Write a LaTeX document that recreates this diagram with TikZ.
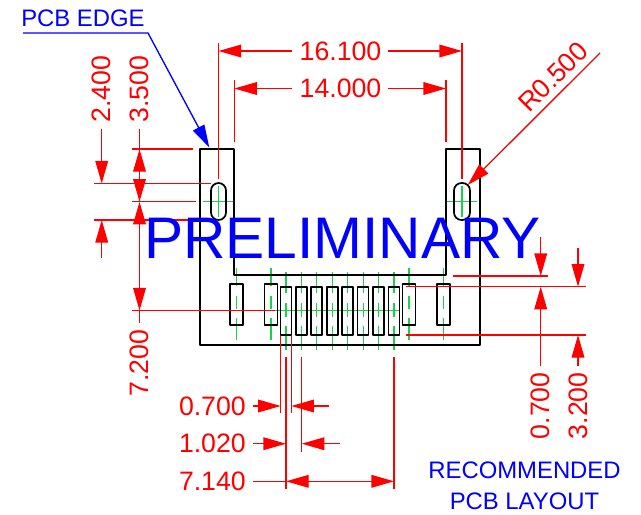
\documentclass[tikz,border=0pt]{standalone}
\usepackage{fontspec}
\setmainfont{Liberation Sans}
\usetikzlibrary{arrows.meta}

\definecolor{dimred}{rgb}{1,0,0}
\definecolor{noteblue}{rgb}{0,0,1}
\definecolor{centergreen}{rgb}{0.1,0.82,0.3}

\tikzset{
  outline/.style={draw=black,line width=1.3pt,line join=round},
  dimline/.style={draw=dimred,line width=1pt},
  dimtip/.style={dimline,-{Triangle[length=17pt,width=9.5pt]}},
  dimtext/.style={text=dimred,font=\fontsize{20}{20}\selectfont,inner sep=0pt},
  notetext/.style={text=noteblue,font=\fontsize{17.9}{17.9}\selectfont,inner sep=0pt},
  centerline/.style={draw=centergreen,line width=0.9pt},
  padline/.style={centerline,dash pattern=on 13.5pt off 7.5pt on 10pt off 6.5pt on 16.5pt},
  padlinelong/.style={centerline,dash pattern=on 16pt off 7.5pt on 10pt off 7pt on 18pt},
}

\begin{document}
\begin{tikzpicture}[x=0.75pt,y=0.75pt,yscale=-1,xscale=1]
  \useasboundingbox (0,0) rectangle (641,514);

  % Center lines
  \draw [centerline] (203,201.7) -- (234,201.7) ;
  \draw [centerline] (218.5,186) -- (218.5,217) ;
  \draw [centerline] (447,201.7) -- (477,201.7) ;
  \draw [centerline] (462,186) -- (462,217) ;
  \draw [centerline] (275,310.5) -- (400,310.5) ;
  \foreach \px in {236.5,271,409,443.5}
    \draw [padline] (\px,268) -- (\px,340) ;
  \foreach \i in {0,...,7}
    \draw [padlinelong] ({286+15.42*\i},272) -- ({286+15.42*\i},351) ;

  % Connector body
  \draw [outline] (234,149) -- (200,149) -- (200,345) -- (480,345) -- (480,149) -- (446,149) -- (446,275) -- (234,275) -- cycle ;

  % Slots
  \draw [outline,rounded corners=5.6pt] (211,183) rectangle (226,220) ;
  \draw [outline,rounded corners=5.6pt] (454,183) rectangle (470,220) ;

  % Pads
  \foreach \px in {236.5,271,409,443.5}
    \draw [outline] (\px-6.5,284) rectangle (\px+6.5,325) ;
  \foreach \i in {0,...,7}
    \draw [outline] ({286+15.42*\i-5.5},286.7) rectangle ({286+15.42*\i+5.5},335) ;

  % Extension lines, left
  \draw [dimline] (131.7,149) -- (193,149) ;
  \draw [dimline] (94,183.5) -- (211,183.5) ;
  \draw [dimline] (131.7,201.7) -- (196,201.7) ;
  \draw [dimline] (94,220) -- (212,220) ;
  \draw [dimline] (131.7,310.5) -- (275,310.5) ;

  % Extension lines, top
  \draw [dimline] (218.5,43) -- (218.5,179) ;
  \draw [dimline] (462,43) -- (462,179) ;
  \draw [dimline] (234.3,80) -- (234.3,142) ;
  \draw [dimline] (446,80) -- (446,142) ;

  % Extension lines, right
  \draw [dimline] (453,276) -- (548,276) ;
  \draw [dimline] (406,286.7) -- (586,286.7) ;
  \draw [dimline] (406,335) -- (586,335) ;

  % Extension lines, bottom
  \draw [dimline] (280.7,336) -- (280.7,413) ;
  \draw [dimline] (291.3,336) -- (291.3,413) ;
  \draw [dimline] (286,357) -- (286,489) ;
  \draw [dimline] (301.7,357) -- (301.7,451.7) ;
  \draw [dimline] (394,357) -- (394,489) ;

  % Dimension 16.100 and 14.000
  \draw [dimtip] (292,51) -- (218.5,51) ;
  \draw [dimtip] (388,51) -- (462,51) ;
  \draw [dimtip] (292,88.5) -- (234.3,88.5) ;
  \draw [dimtip] (388,88.5) -- (446,88.5) ;
  \node [dimtext] (dimwide) at (340.5,51) {16.100};
  \node [dimtext] (dimnarrow) at (340.5,88.5) {14.000};

  % Dimension 2.400
  \draw [dimtip] (101.7,129) -- (101.7,183.5) ;
  \draw [dimtip] (101.7,258) -- (101.7,220) ;
  \node [dimtext,rotate=90] (dimslot) at (101.7,89) {2.400};

  % Dimension 3.500 and 7.200
  \draw [dimline] (139.5,129) -- (139.5,149) ;
  \draw [dimtip] (139.5,172) -- (139.5,149) ;
  \draw [dimtip] (139.5,172) -- (139.5,201.7) ;
  \draw [dimtip] (139.5,225) -- (139.5,201.7) ;
  \draw [dimtip] (139.5,225) -- (139.5,310.5) ;
  \draw [dimline] (139.5,310.5) -- (139.5,322.7) ;
  \node [dimtext,rotate=90] (dimtab) at (139.5,89) {3.500};
  \node [dimtext,rotate=90] (dimpad) at (139.5,363) {7.200};

  % Dimension 0.700 and 3.200, right
  \draw [dimtip] (540.7,237) -- (540.7,276) ;
  \draw [dimtip] (540.7,365.7) -- (540.7,286.7) ;
  \draw [dimtip] (578,248) -- (578,286.7) ;
  \draw [dimtip] (578,365.7) -- (578,335) ;
  \node [dimtext,rotate=90] (dimgap) at (540.7,405.7) {0.700};
  \node [dimtext,rotate=90] (dimlen) at (578,405.7) {3.200};

  % Dimension 0.700, 1.020 and 7.140, bottom
  \draw [dimtip] (253,406) -- (280.7,406) ;
  \draw [dimtip] (329,406) -- (291.3,406) ;
  \draw [dimtip] (253,443.7) -- (286,443.7) ;
  \draw [dimtip] (340,443.7) -- (301.7,443.7) ;
  \draw [dimline] (253,481.3) -- (286,481.3) ;
  \draw [dimtip] (340,481.3) -- (286,481.3) ;
  \draw [dimtip] (340,481.3) -- (394,481.3) ;
  \node [dimtext,anchor=east] (dimwidth) at (246,406) {0.700};
  \node [dimtext,anchor=east] (dimpitch) at (246,443.7) {1.020};
  \node [dimtext,anchor=east] (dimspan) at (246,481.3) {7.140};

  % Radius
  \draw [dimtip] (600,53) -- (467.7,185) ;
  \node [dimtext,rotate=45] (dimradius) at (553,77) {R0.500};

  % Notes
  \node [notetext,anchor=west] (edgenote) at (21,18) {PCB EDGE};
  \draw [draw=noteblue,line width=1pt,-{Triangle[length=17pt,width=9.5pt]}] (23,33) -- (148,33) -- (209.3,147.5) ;
  \node [notetext] (layoutnote) at (524.5,470.7) {RECOMMENDED};
  \node [notetext] (layoutnotetwo) at (524.5,501.7) {PCB LAYOUT};
  \node [text=noteblue,font=\fontsize{44}{44}\selectfont,inner sep=0pt] (stamp) at (342.5,238) {PRELIMINARY};
\end{tikzpicture}
\end{document}
